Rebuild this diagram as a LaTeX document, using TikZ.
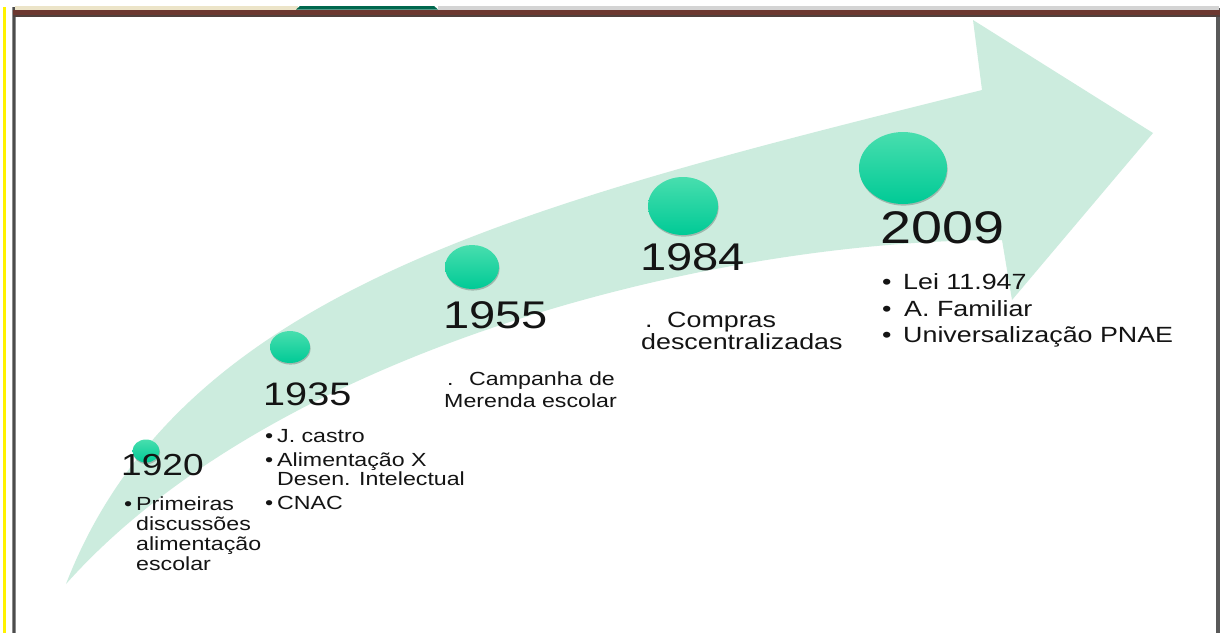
\documentclass[tikz,border=0pt]{standalone}
\usepackage{fontspec}
\setmainfont{Liberation Sans}[FakeStretch=1.22]
\usetikzlibrary{shapes.geometric,shadows}
\definecolor{band}{RGB}{204,236,222}
\definecolor{dottop}{RGB}{72,222,174}
\definecolor{dotbot}{RGB}{0,202,150}
\definecolor{barbrown}{RGB}{108,56,48}
\definecolor{bardark}{RGB}{80,64,60}
\definecolor{stripbeige}{RGB}{236,228,200}
\definecolor{stripgreen}{RGB}{0,104,78}
\definecolor{stripgray}{RGB}{212,212,212}
\definecolor{txt}{RGB}{20,20,20}
\begin{document}
\begin{tikzpicture}[x=1pt,y=-1pt,
  dot/.style={ellipse, inner sep=0pt, draw=none, top color=dottop, bottom color=dotbot,
    drop shadow={shadow xshift=0.6pt, shadow yshift=-1.6pt, opacity=0.22, fill=black}},
  yr/.style={anchor=base west, inner sep=0pt, text=txt},
  itm/.style={anchor=base west, inner sep=0pt, text=txt},
  small/.style={font=\fontsize{19}{20}\selectfont},
  big/.style={font=\fontsize{22}{24}\selectfont}]
\useasboundingbox (0,0) rectangle (1222,633);
\fill[white] (0,0) rectangle (1222,633);
% frame
\fill[yellow] (3,7) rectangle (6,633);
\fill[black!45] (11.5,7) rectangle (16,633);
\fill[black!70] (12.5,7) rectangle (15,633);
\fill[black!65] (1216,8) rectangle (1219.5,633);
\fill[stripbeige] (15,6) rectangle (298,9.5);
\fill[stripgreen] (296,9.5) -- (300,6) -- (434,6) -- (438,9.5) -- cycle;
\fill[stripgray] (438,6) rectangle (1219,9.5);
\fill[barbrown] (13,9.5) rectangle (1219.5,15);
\fill[bardark] (13,15) rectangle (1219.5,17);
% arrow
\fill[band] (66,584) .. controls (180,290) and (520,205) .. (982,90)
  -- (973,20) -- (1153,133) -- (1012,300) -- (1002,240)
  .. controls (700,240) and (270,355) .. (66,584) -- cycle;
% dots
\node[dot, minimum width=27pt, minimum height=23pt] (d1920) at (146,451) {};
\node[dot, minimum width=40pt, minimum height=32pt] (d1935) at (290,347) {};
\node[dot, minimum width=54pt, minimum height=44pt] (d1955) at (472,267) {};
\node[dot, minimum width=70pt, minimum height=58pt] (d1984) at (683,206) {};
\node[dot, minimum width=88pt, minimum height=72pt] (d2009) at (903,168) {};
% years
\node[yr, font=\fontsize{30.4}{32}\selectfont] (y1920) at (121,475) {1920};
\node[yr, font=\fontsize{32.5}{34}\selectfont] (y1935) at (263,405) {1935};
\node[yr, font=\fontsize{38.6}{40}\selectfont] (y1955) at (443,328) {1955};
\node[yr, font=\fontsize{38.6}{40}\selectfont] (y1984) at (640,270) {1984};
\node[yr, font=\fontsize{45.7}{48}\selectfont] (y2009) at (880,243) {2009};
% 1920
\node[itm, small] (b1920a) at (124,510) {•};
\node[itm, small] (t1920a) at (136,510) {Primeiras};
\node[itm, small] (t1920b) at (136,530) {discussões};
\node[itm, small] (t1920c) at (136,550) {alimentação};
\node[itm, small] (t1920d) at (136,570) {escolar};
% 1935
\node[itm, small] (b1935a) at (265,442) {•};
\node[itm, small] (t1935a) at (277,442) {J. castro};
\node[itm, small] (b1935b) at (265,466) {•};
\node[itm, small] (t1935b) at (277,466) {Alimentação X};
\node[itm, small] (t1935c) at (277,485) {Desen. Intelectual};
\node[itm, small] (b1935c) at (265,509) {•};
\node[itm, small] (t1935d) at (277,509) {CNAC};
% 1955
\node[itm, small] (p1955) at (447,385) {.};
\node[itm, small] (t1955a) at (469,385) {Campanha de};
\node[itm, small] (t1955b) at (444,407) {Merenda escolar};
% 1984
\node[itm, big] (p1984) at (645,327) {.};
\node[itm, big] (t1984a) at (667,327) {Compras};
\node[itm, big] (t1984b) at (641,349) {descentralizadas};
% 2009
\node[itm, big] (b2009a) at (882,289) {•};
\node[itm, big] (t2009a) at (903,289) {Lei 11.947};
\node[itm, big] (b2009b) at (882,316) {•};
\node[itm, big] (t2009b) at (904,316) {A. Familiar};
\node[itm, big] (b2009c) at (882,342) {•};
\node[itm, big] (t2009c) at (903,342) {Universalização PNAE};
\end{tikzpicture}
\end{document}
